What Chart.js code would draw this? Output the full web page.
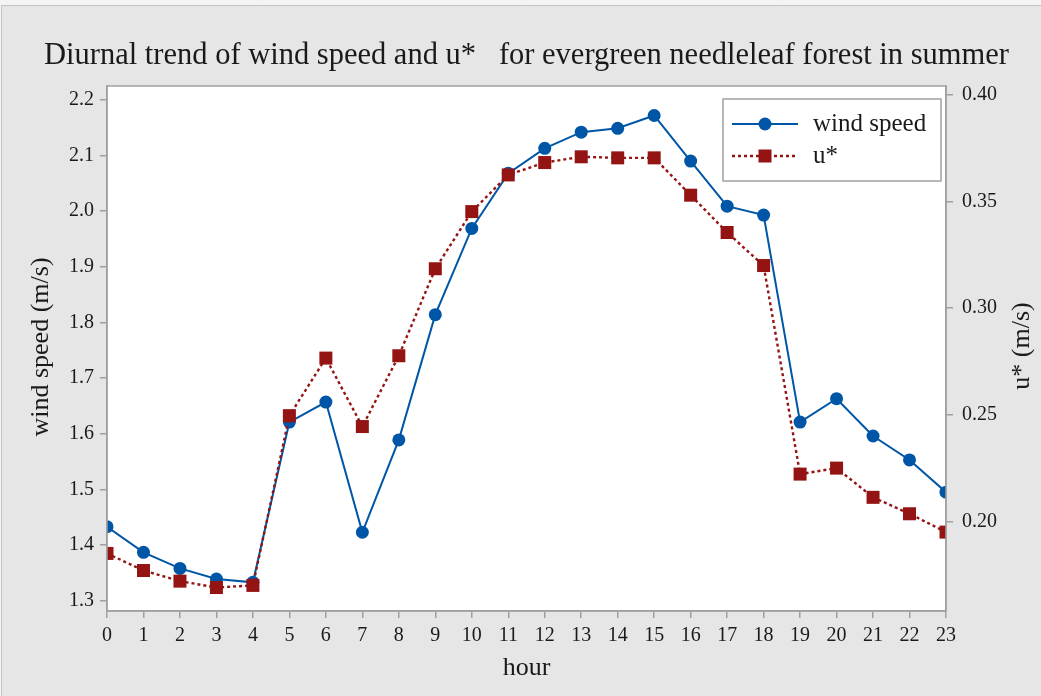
<!DOCTYPE html>
<html>
<head>
<meta charset="utf-8">
<script src="https://cdn.jsdelivr.net/npm/chart.js@4"></script>
<style>
    html, body { margin: 0; padding: 0; background: #f4f4f4; }
    #wrap { width: 1041px; height: 696px; position: relative; }
</style>
</head>
<body>
<div id="wrap"><canvas id="windChart"></canvas></div>
<script>
/* =========================================================
   DATA
========================================================= */
const hours = ['0', '1', '2', '3', '4', '5', '6', '7', '8', '9', '10', '11',
    '12', '13', '14', '15', '16', '17', '18', '19', '20', '21', '22', '23'];

const windSpeed = [1.433, 1.387, 1.358, 1.339, 1.333, 1.621, 1.657, 1.423,
    1.589, 1.814, 1.969, 2.068, 2.113, 2.142, 2.149, 2.172, 2.090, 2.009,
    1.993, 1.621, 1.663, 1.596, 1.553, 1.495];

const uStar = [0.185, 0.177, 0.172, 0.169, 0.170, 0.2496, 0.2766, 0.2445,
    0.2777, 0.3185, 0.3453, 0.3625, 0.3683, 0.371, 0.3705, 0.3705, 0.353,
    0.3355, 0.320, 0.2222, 0.225, 0.2113, 0.2036, 0.195];

const windTicks = [1.3, 1.4, 1.5, 1.6, 1.7, 1.8, 1.9, 2.0, 2.1, 2.2];
const uStarTicks = [0.20, 0.25, 0.30, 0.35, 0.40];

/* =========================================================
   STYLE
========================================================= */
const blue = '#0056a6';
const red = '#941414';
const axisGrey = '#a0a0a0';
const textColor = '#1a1a1a';
const serif = '"Liberation Serif", "Times New Roman", serif';

/* =========================================================
   PLUGINS
========================================================= */
const backdrop = {
    id: 'backdrop',
    beforeDraw(chart) {
        const ctx = chart.ctx;
        const a = chart.chartArea;
        ctx.save();
        ctx.fillStyle = '#e6e6e6';
        ctx.fillRect(1, 5, chart.width, chart.height);
        ctx.strokeStyle = '#c4c4c4';
        ctx.lineWidth = 1;
        ctx.beginPath();
        ctx.moveTo(1.5, chart.height);
        ctx.lineTo(1.5, 5.5);
        ctx.lineTo(chart.width, 5.5);
        ctx.stroke();
        ctx.fillStyle = '#ffffff';
        ctx.fillRect(a.left, a.top, a.right - a.left, a.bottom - a.top);
        ctx.restore();
    }
};

const decorations = {
    id: 'decorations',
    afterDraw(chart) {
        const ctx = chart.ctx;
        const a = chart.chartArea;
        ctx.save();

        // plot frame
        ctx.strokeStyle = axisGrey;
        ctx.lineWidth = 1.5;
        ctx.strokeRect(a.left, a.top, a.right - a.left, a.bottom - a.top);

        // title
        ctx.fillStyle = textColor;
        ctx.font = '30.5px ' + serif;
        ctx.textAlign = 'center';
        ctx.textBaseline = 'alphabetic';
        ctx.fillText('Diurnal trend of wind speed and u*   for evergreen needleleaf forest in summer',
            (a.left + a.right) / 2, 64);

        // axis titles
        ctx.font = '26px ' + serif;
        ctx.textBaseline = 'middle';
        ctx.fillText('hour', (a.left + a.right) / 2, 668);

        ctx.save();
        ctx.translate(41, 347);
        ctx.rotate(-Math.PI / 2);
        ctx.fillText('wind speed (m/s)', 0, 0);
        ctx.restore();

        ctx.save();
        ctx.translate(1022, 346);
        ctx.rotate(-Math.PI / 2);
        ctx.fillText('u* (m/s)', 0, 0);
        ctx.restore();

        // legend
        const lx = 723, ly = 99, lw = 218, lh = 82;
        ctx.fillStyle = '#ffffff';
        ctx.fillRect(lx, ly, lw, lh);
        ctx.strokeStyle = axisGrey;
        ctx.lineWidth = 1.5;
        ctx.strokeRect(lx, ly, lw, lh);

        const rows = [
            { label: 'wind speed', color: blue, dash: [], width: 2, shape: 'circle', y: 124 },
            { label: 'u*', color: red, dash: [3, 3], width: 2.4, shape: 'rect', y: 156 }
        ];
        rows.forEach(r => {
            ctx.strokeStyle = r.color;
            ctx.lineWidth = r.width;
            ctx.setLineDash(r.dash);
            ctx.beginPath();
            ctx.moveTo(732, r.y);
            ctx.lineTo(798, r.y);
            ctx.stroke();
            ctx.setLineDash([]);
            ctx.fillStyle = r.color;
            if (r.shape === 'circle') {
                ctx.beginPath();
                ctx.arc(765, r.y, 6.5, 0, Math.PI * 2);
                ctx.fill();
            } else {
                ctx.fillRect(765 - 6.5, r.y - 6.5, 13, 13);
            }
            ctx.fillStyle = textColor;
            ctx.font = '25px ' + serif;
            ctx.textAlign = 'left';
            ctx.textBaseline = 'middle';
            ctx.fillText(r.label, 813, r.y);
        });

        ctx.restore();
    }
};

/* =========================================================
   CHART INIT
========================================================= */
const tickFont = { family: serif, size: 20 };

const windChart = new Chart(
    document.getElementById('windChart'), {
        type: 'line',
        data: {
            labels: hours,
            datasets: [{
                label: 'wind speed',
                data: windSpeed,
                yAxisID: 'y',
                borderColor: blue,
                backgroundColor: blue,
                borderWidth: 2,
                pointStyle: 'circle',
                pointRadius: 6.5,
                pointBorderWidth: 0,
                tension: 0,
                clip: 0,
                order: 2
            }, {
                label: 'u*',
                data: uStar,
                yAxisID: 'y1',
                borderColor: red,
                backgroundColor: red,
                borderWidth: 2.4,
                borderDash: [3, 3],
                pointStyle: 'rect',
                pointRadius: 9.2,
                pointBorderWidth: 0,
                tension: 0,
                clip: 0,
                order: 1
            }]
        },
        options: {
            responsive: true,
            maintainAspectRatio: false,
            animation: false,
            events: [],
            layout: {
                padding: { top: 86, left: 0, right: 0, bottom: 0 }
            },
            plugins: {
                legend: { display: false },
                tooltip: { enabled: false }
            },
            scales: {
                x: {
                    type: 'category',
                    offset: false,
                    afterFit(scale) { scale.height = 85; },
                    grid: { drawOnChartArea: false, tickLength: 7, color: axisGrey, lineWidth: 1.5 },
                    border: { color: axisGrey, width: 1.5 },
                    ticks: {
                        autoSkip: false,
                        maxRotation: 0,
                        padding: 6,
                        color: textColor,
                        font: tickFont
                    }
                },
                y: {
                    position: 'left',
                    min: 1.2815,
                    max: 2.225,
                    afterFit(scale) { scale.width = 107; },
                    afterBuildTicks(scale) {
                        scale.ticks = windTicks.map(v => ({ value: v }));
                    },
                    grid: { drawOnChartArea: false, tickLength: 7, color: axisGrey, lineWidth: 1.5 },
                    border: { color: axisGrey, width: 1.5 },
                    ticks: {
                        padding: 6,
                        color: textColor,
                        font: tickFont,
                        callback: v => v.toFixed(1)
                    }
                },
                y1: {
                    position: 'right',
                    min: 0.158,
                    max: 0.4042,
                    afterFit(scale) { scale.width = 95; },
                    afterBuildTicks(scale) {
                        scale.ticks = uStarTicks.map(v => ({ value: v }));
                    },
                    grid: { drawOnChartArea: false, tickLength: 7, color: axisGrey, lineWidth: 1.5 },
                    border: { color: axisGrey, width: 1.5 },
                    ticks: {
                        padding: 9,
                        color: textColor,
                        font: tickFont,
                        callback: v => v.toFixed(2)
                    }
                }
            }
        },
        plugins: [backdrop, decorations]
    }
);
</script>
</body>
</html>
